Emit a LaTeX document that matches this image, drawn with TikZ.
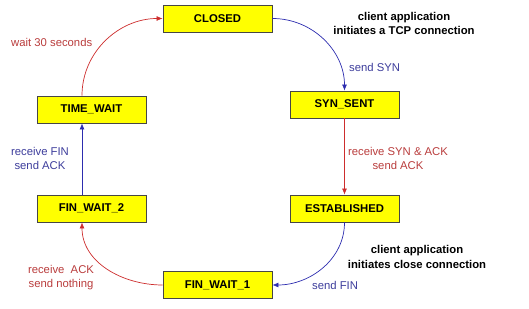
\documentclass[tikz,border=0pt]{standalone}
\usepackage{fontspec}
\setmainfont{Liberation Sans}
\usepackage{xcolor}
\usepackage{tikz}
\usetikzlibrary{arrows.meta}

\definecolor{boxyellow}{RGB}{255,255,0}
\definecolor{boxedge}{RGB}{70,70,70}
\definecolor{redline}{RGB}{205,45,45}
\definecolor{redtext}{RGB}{185,60,60}
\definecolor{blueline}{RGB}{45,45,175}
\definecolor{bluetext}{RGB}{60,60,155}

\tikzset{
  state/.style={draw=boxedge, line width=0.8pt, fill=boxyellow, minimum width=109pt,
    minimum height=27pt, inner sep=0pt, font=\fontsize{11.3}{14}\selectfont\bfseries},
  redarr/.style={draw=redline, line width=0.7pt, -{Latex[length=6pt,width=5pt]}},
  bluearr/.style={draw=blueline, line width=0.7pt, -{Latex[length=6pt,width=5pt]}},
  redlbl/.style={text=redtext, align=center, inner sep=0pt},
  bluelbl/.style={text=bluetext, align=center, inner sep=0pt},
  note/.style={font=\fontsize{11.3}{14.5}\selectfont\bfseries, align=center, inner sep=0pt}
}

\begin{document}
\begin{tikzpicture}[x=1pt, y=1pt, font=\fontsize{11.3}{14}\selectfont]
                  \useasboundingbox (0,0) rectangle (529,308);

                  \node[state] (closed) at (217.5, 289.5) {CLOSED};
                  \node[state] (synsent) at (344.5, 203.5) {SYN\_SENT};
                  \node[state] (estab) at (344.5, 99.5) {ESTABLISHED};
                  \node[state] (finone) at (217.5, 23) {FIN\_WAIT\_1};
                  \node[state] (fintwo) at (91.5, 99.5) {FIN\_WAIT\_2};
                  \node[state] (timewait) at (91.5, 198.5) {TIME\_WAIT};

                  % active open
                  \draw[bluearr] (closed.east) to[out=0, in=90] (synsent.north);
                  \node[bluelbl, anchor=west] (sendsyn) at (349, 241) {send SYN};
                  \node[note] (opennote) at (404, 284.5) {client application\\initiates a TCP connection};

                  \draw[redarr] (synsent.south) -- (estab.north);
                  \node[redlbl] (synack) at (398, 150) {receive SYN \& ACK\\send ACK};

                  % active close
                  \draw[bluearr] (estab.south) to[out=-90, in=0] (finone.east);
                  \node[bluelbl, anchor=west] (sendfin) at (312, 23) {send FIN};
                  \node[note] (closenote) at (417, 51) {client application\\initiates close connection};

                  \draw[redarr] (finone.west) to[out=180, in=-90] ([xshift=-9.5pt]fintwo.south);
                  \node[redlbl] (recvack) at (61, 30.5) {receive\ \ ACK\\send nothing};

                  \draw[bluearr] ([xshift=-9.5pt]fintwo.north) -- ([xshift=-9.5pt]timewait.south);
                  \node[bluelbl] (recvfin) at (40, 149.5) {receive FIN\\send ACK};

                  \draw[redarr] ([xshift=-9.5pt]timewait.north) to[out=90, in=180] (closed.west);
                  \node[redlbl, anchor=west] (waitlbl) at (11, 266) {wait 30 seconds};
              \end{tikzpicture}
\end{document}
